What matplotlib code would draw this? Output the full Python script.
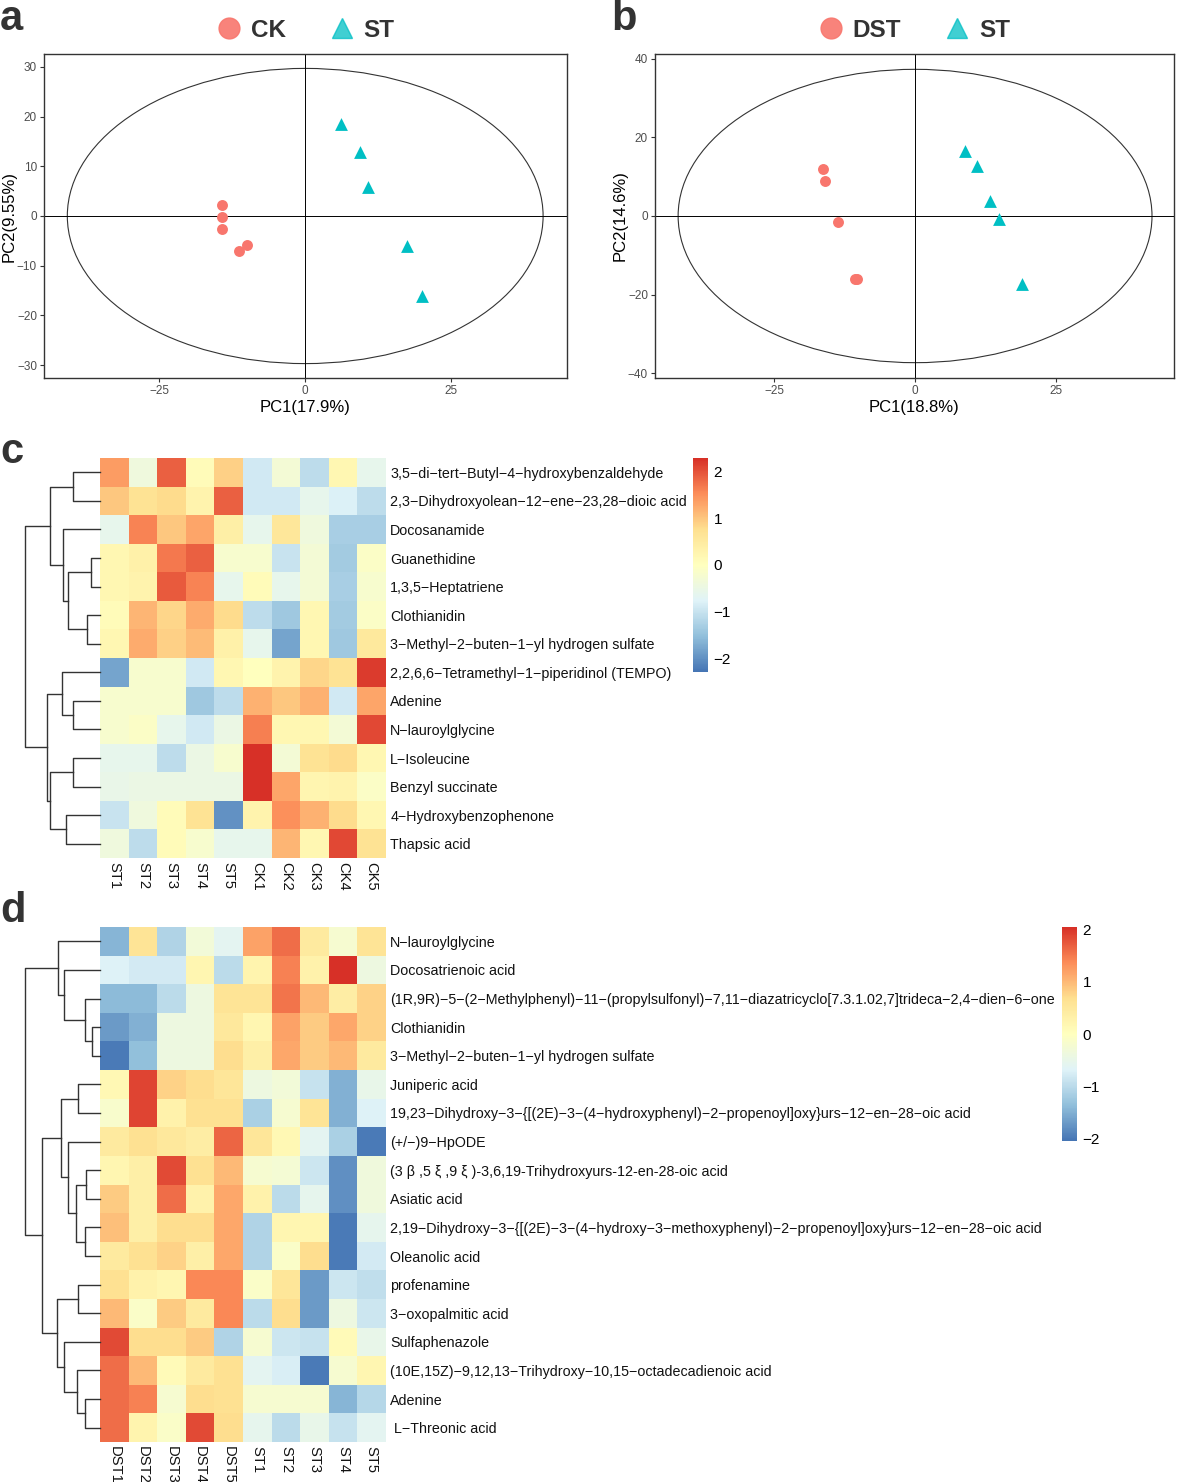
import numpy as np
import matplotlib
matplotlib.use("Agg")
import matplotlib.pyplot as plt
from matplotlib.colors import LinearSegmentedColormap
from matplotlib.patches import Ellipse
from matplotlib.lines import Line2D

plt.rcParams['font.family'] = ['Liberation Sans', 'DejaVu Sans']

W, H = 1178, 1482
M = '\u2212'  # R の pheatmap はハイフンをマイナス記号で描く

# ---- PCA (a) ----
a_groups = ['CK', 'ST']
a_ck_pc1 = [-14.3, -14.3, -14.3, -11.3, -9.9]
a_ck_pc2 = [2.3, -0.3, -2.6, -7.1, -5.8]
a_st_pc1 = [6.2, 9.4, 10.7, 17.5, 20.0]
a_st_pc2 = [18.6, 12.9, 5.8, -6.1, -16.0]
a_ellipse = [40.8, 29.7]
a_yticks = [-30, -20, -10, 0, 10, 20, 30]

# ---- PCA (b) ----
b_groups = ['DST', 'ST']
b_dst_pc1 = [-16.4, -15.9, -13.6, -10.6, -10.3]
b_dst_pc2 = [11.9, 8.8, -1.4, -15.9, -16.1]
b_st_pc1 = [8.8, 11.0, 13.3, 14.9, 18.9]
b_st_pc2 = [16.5, 12.6, 3.9, -0.8, -17.2]
b_ellipse = [42.0, 37.3]
b_yticks = [-40, -20, 0, 20, 40]

# ---- heatmap (c) ----
c_cols = ['ST1', 'ST2', 'ST3', 'ST4', 'ST5', 'CK1', 'CK2', 'CK3', 'CK4', 'CK5']
c_rows = ['3,5-di-tert-Butyl-4-hydroxybenzaldehyde',
          '2,3-Dihydroxyolean-12-ene-23,28-dioic acid',
          'Docosanamide', 'Guanethidine', '1,3,5-Heptatriene', 'Clothianidin',
          '3-Methyl-2-buten-1-yl hydrogen sulfate',
          '2,2,6,6-Tetramethyl-1-piperidinol (TEMPO)',
          'Adenine', 'N-lauroylglycine', 'L-Isoleucine', 'Benzyl succinate',
          '4-Hydroxybenzophenone', 'Thapsic acid']
c_vals = [
    [1.4, -0.4, 1.9, 0.1, 0.9, -0.9, -0.3, -1.1, 0.2, -0.6],
    [1.0, 0.7, 0.8, 0.3, 1.9, -0.9, -0.9, -0.6, -0.8, -1.1],
    [-0.6, 1.6, 1.0, 1.3, 0.4, -0.6, 0.6, -0.4, -1.3, -1.3],
    [0.2, 0.35, 1.7, 1.9, -0.2, -0.2, -1.0, -0.3, -1.35, -0.1],
    [0.2, 0.3, 1.95, 1.6, -0.6, 0.1, -0.6, -0.3, -1.3, -0.2],
    [0.1, 1.15, 0.85, 1.25, 0.8, -1.1, -1.4, 0.2, -1.35, -0.1],
    [0.2, 1.25, 0.9, 1.1, 0.35, -0.6, -1.8, 0.2, -1.4, 0.55],
    [-1.8, -0.2, -0.2, -0.9, 0.2, 0.0, 0.3, 0.85, 0.7, 2.2],
    [-0.2, -0.2, -0.2, -1.4, -1.1, 1.2, 1.0, 1.2, -0.9, 1.3],
    [-0.2, -0.1, -0.6, -0.9, -0.5, 1.65, 0.2, 0.2, -0.3, 2.1],
    [-0.6, -0.6, -1.1, -0.5, -0.2, 2.3, -0.3, 0.7, 0.8, 0.2],
    [-0.55, -0.5, -0.5, -0.5, -0.5, 2.3, 1.3, 0.25, 0.3, -0.1],
    [-1.0, -0.4, 0.1, 0.7, -2.0, 0.3, 1.5, 1.2, 0.8, 0.2],
    [-0.4, -1.1, 0.1, -0.2, -0.6, -0.6, 1.15, 0.2, 2.1, 0.7],
]
# (左, 右, 高さ)  葉は 0..13, 新しいクラスタは 14 から
c_merges = [(0, 1, 27.3), (3, 4, 9.3), (5, 6, 12.7), (15, 16, 31.7),
            (2, 17, 36.7), (14, 18, 50), (8, 9, 27.3), (7, 20, 38.3),
            (10, 11, 27.3), (12, 13, 34), (22, 23, 50), (21, 24, 53.3),
            (19, 25, 75)]

# ---- heatmap (d) ----
d_cols = ['DST1', 'DST2', 'DST3', 'DST4', 'DST5', 'ST1', 'ST2', 'ST3', 'ST4', 'ST5']
d_rows = ['N-lauroylglycine', 'Docosatrienoic acid',
          '(1R,9R)-5-(2-Methylphenyl)-11-(propylsulfonyl)-7,11-diazatricyclo[7.3.1.02,7]trideca-2,4-dien-6-one',
          'Clothianidin', '3-Methyl-2-buten-1-yl hydrogen sulfate', 'Juniperic acid',
          '19,23-Dihydroxy-3-{[(2E)-3-(4-hydroxyphenyl)-2-propenoyl]oxy}urs-12-en-28-oic acid',
          '(+/-)9-HpODE', None, 'Asiatic acid',
          '2,19-Dihydroxy-3-{[(2E)-3-(4-hydroxy-3-methoxyphenyl)-2-propenoyl]oxy}urs-12-en-28-oic acid',
          'Oleanolic acid', 'profenamine', '3-oxopalmitic acid', 'Sulfaphenazole',
          '(10E,15Z)-9,12,13-Trihydroxy-10,15-octadecadienoic acid', 'Adenine',
          ' L-Threonic acid']
d_row9 = '(3 \u03b2 ,5 \u03be ,9 \u03be )-3,6,19-Trihydroxyurs-12-en-28-oic acid'
d_vals = [
    [-1.45, 0.6, -1.1, -0.3, -0.6, 1.2, 1.6, 0.45, -0.2, 0.6],
    [-0.7, -0.8, -0.8, 0.2, -1.0, 0.25, 1.45, 0.3, 2.05, -0.4],
    [-1.4, -1.4, -1.0, -0.4, 0.6, 0.6, 1.55, 1.0, 0.4, 0.8],
    [-1.7, -1.5, -0.4, -0.4, 0.5, 0.2, 1.2, 0.85, 1.15, 0.8],
    [-2.0, -1.35, -0.4, -0.4, 0.7, 0.35, 1.15, 0.85, 1.0, 0.45],
    [0.15, 1.9, 0.8, 0.7, 0.55, -0.4, -0.3, -0.9, -1.5, -0.5],
    [-0.15, 1.9, 0.3, 0.65, 0.65, -1.15, -0.2, 0.6, -1.5, -0.7],
    [0.45, 0.65, 0.5, 0.4, 1.65, 0.55, 0.15, -0.6, -1.15, -2.0],
    [0.2, 0.35, 1.85, 0.65, 1.0, -0.2, -0.25, -0.85, -1.8, -0.35],
    [0.85, 0.35, 1.6, 0.3, 1.15, 0.3, -1.0, -0.55, -1.8, -0.35],
    [0.95, 0.35, 0.7, 0.7, 1.15, -1.1, 0.2, 0.2, -2.0, -0.55],
    [0.45, 0.65, 0.8, 0.35, 1.15, -1.1, -0.1, 0.7, -2.0, -0.8],
    [0.65, 0.3, 0.2, 1.4, 1.4, -0.1, 0.55, -1.7, -0.85, -0.95],
    [1.0, -0.1, 0.85, 0.45, 1.4, -1.0, 0.7, -1.7, -0.4, -0.85],
    [1.85, 0.7, 0.7, 0.85, -1.1, -0.2, -0.85, -0.9, 0.1, -0.5],
    [1.6, 1.0, 0.1, 0.45, 0.65, -0.6, -0.75, -2.0, -0.2, 0.2],
    [1.6, 1.45, -0.2, 0.7, 0.65, -0.2, -0.2, -0.2, -1.45, -1.05],
    [1.6, 0.25, -0.1, 1.85, 0.7, -0.55, -1.0, -0.5, -0.9, -0.6],
]
d_merges = [(3, 4, 8.3), (2, 18, 15), (1, 19, 35.7), (0, 20, 41.7),
            (5, 6, 21.7), (8, 9, 14), (10, 11, 15), (23, 24, 24),
            (7, 25, 31.7), (22, 26, 39), (12, 13, 21.7), (16, 17, 15),
            (15, 29, 22.7), (14, 30, 36), (28, 31, 43.3), (27, 32, 58.3),
            (21, 33, 75)]

RED = '#F8766D'
TEAL = '#00BFC4'
cmap = LinearSegmentedColormap.from_list(
    'pheat', ['#4575B4', '#91BFDB', '#E0F3F8', '#FFFFBF', '#FEE090', '#FC8D59', '#D73027'])

fig = plt.figure(figsize=(W / 100, H / 100), dpi=100)


def px(x0, y0, x1, y1):
    return [x0 / W, 1 - y1 / H, (x1 - x0) / W, (y1 - y0) / H]


def pca_panel(rect, groups, x1, y1, x2, y2, ell, xlim, ylim, yticks, xlabel, ylabel):
    ax = fig.add_axes(rect)
    ax.add_patch(Ellipse((0, 0), 2 * ell[0], 2 * ell[1], fill=False, ec='#333333', lw=0.8))
    ax.axhline(0, color='black', lw=0.7)
    ax.axvline(0, color='black', lw=0.7)
    ax.scatter(x1, y1, s=62, marker='o', color=RED, lw=0, zorder=3)
    ax.scatter(x2, y2, s=85, marker='^', color=TEAL, lw=0, zorder=3)
    ax.set_xlim(*xlim)
    ax.set_ylim(*ylim)
    ax.set_xticks([-25, 0, 25])
    ax.set_yticks(yticks)
    ax.tick_params(length=3, width=0.8, color='#333333', labelcolor='#4D4D4D', labelsize=8.5, pad=2)
    for s in ax.spines.values():
        s.set_color('#333333')
        s.set_linewidth(1.0)
    ax.set_xlabel(xlabel, fontsize=12, labelpad=2)
    ax.set_ylabel(ylabel, fontsize=12, labelpad=0)
    handles = [Line2D([], [], ls='none', marker='o', ms=15, color=RED, alpha=0.9),
               Line2D([], [], ls='none', marker='^', ms=15, color=TEAL, alpha=0.75)]
    ax.legend(handles, groups, loc='lower center', bbox_to_anchor=(0.5, 1.0), ncol=2,
              frameon=False, prop={'weight': 'bold', 'size': 17.5}, handlelength=1.0,
              handletextpad=0.4, columnspacing=1.8, borderaxespad=0.1)
    for t in ax.get_legend().get_texts():
        t.set_color('#333333')
    return ax


pca_panel(px(44, 54, 567, 378), a_groups, a_ck_pc1, a_ck_pc2, a_st_pc1, a_st_pc2,
          a_ellipse, (-44.8, 44.9), (-32.6, 32.6), a_yticks, 'PC1(17.9%)', 'PC2(9.55%)')
pca_panel(px(655, 54, 1174, 378), b_groups, b_dst_pc1, b_dst_pc2, b_st_pc1, b_st_pc2,
          b_ellipse, (-46.1, 45.9), (-41.2, 41.2), b_yticks, 'PC1(18.8%)', 'PC2(14.6%)')


def draw_dendro(ax, merges, n):
    pos = {i: (i + 0.5, 0.0) for i in range(n)}
    for k, (a, b, h) in enumerate(merges):
        ya, ha = pos[a]
        yb, hb = pos[b]
        ax.plot([ha, h, h, hb], [ya, ya, yb, yb], color='#333333', lw=1.0, clip_on=False)
        pos[n + k] = ((ya + yb) / 2, h)
    ax.set_ylim(n, 0)
    ax.set_xlim(75, 0)
    ax.axis('off')


def heat_panel(top, bottom, vals, rows, cols, merges, cb_rect):
    vals = np.array(vals)
    vmax = np.abs(vals).max()
    nr, nc = vals.shape
    ax = fig.add_axes(px(100, top, 386, bottom))
    m = ax.pcolormesh(vals, cmap=cmap, vmin=-vmax, vmax=vmax)
    ax.set_xlim(0, nc)
    ax.set_ylim(nr, 0)
    ax.yaxis.tick_right()
    ax.set_yticks(np.arange(nr) + 0.5, [r.replace('-', M) for r in rows])
    ax.set_xticks(np.arange(nc) + 0.5, cols, rotation=270)
    ax.tick_params(length=0, labelsize=10.3, pad=3, labelcolor='#111111')
    ax.tick_params(axis='x', labelsize=10.6)
    for s in ax.spines.values():
        s.set_visible(False)
    dax = fig.add_axes(px(25, top, 100, bottom))
    draw_dendro(dax, merges, nr)
    cax = fig.add_axes(px(*cb_rect))
    cb = fig.colorbar(m, cax=cax, ticks=[-2, -1, 0, 1, 2])
    cb.outline.set_visible(False)
    cax.tick_params(length=0, labelsize=11, pad=4)
    return ax


heat_panel(458, 858, c_vals, c_rows, c_cols, c_merges, (693, 458, 708, 672))
dax = heat_panel(927, 1442, d_vals, [r if r is not None else '' for r in d_rows],
                 d_cols, d_merges, (1062, 927, 1077, 1141))
# ギリシャ文字を含む名前はハイフンのまま
labels = [t.get_text() for t in dax.get_yticklabels()]
labels[8] = d_row9
dax.set_yticklabels(labels)

for letter, x, y in [('a', 0, 30), ('b', 611, 30), ('c', 0, 463), ('d', 0, 922)]:
    fig.text(x / W, 1 - y / H, letter, fontsize=30, fontweight='bold', color='#333333',
             va='baseline', ha='left')

fig.savefig('out.png', dpi=100)
